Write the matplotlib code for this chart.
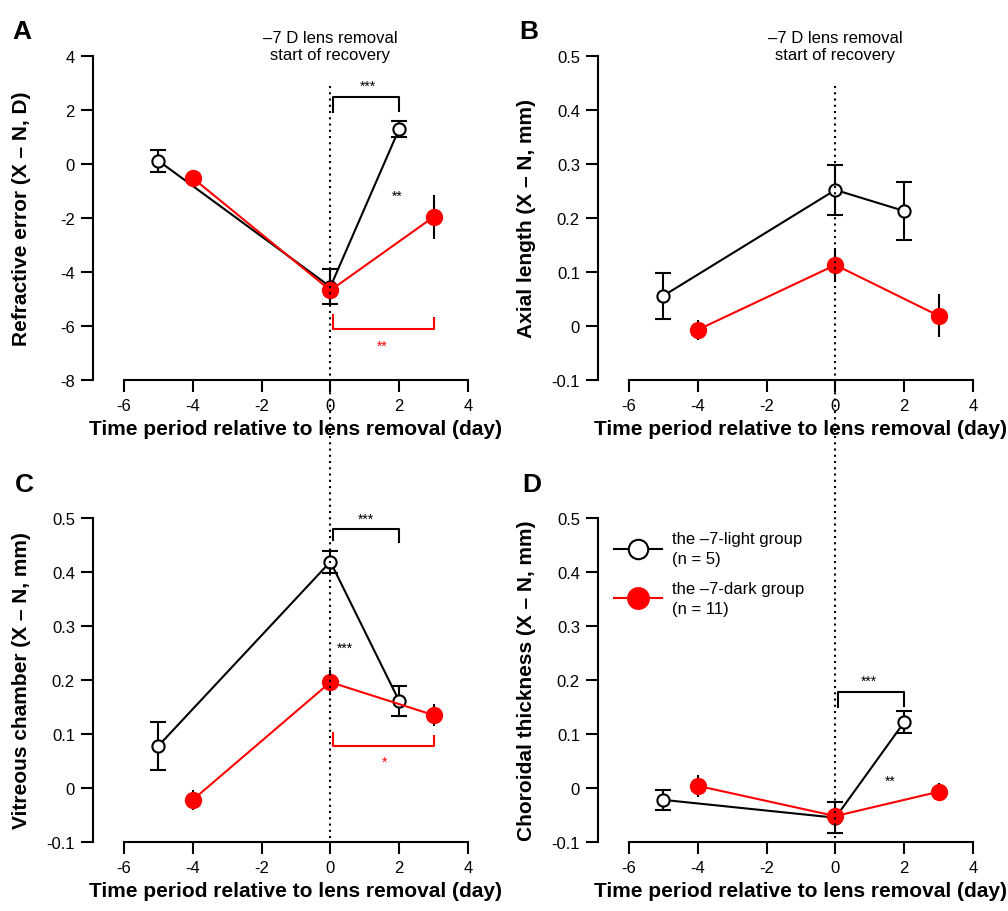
import matplotlib
matplotlib.use('Agg')
import matplotlib.pyplot as plt
from matplotlib.lines import Line2D
import matplotlib.transforms as mtransforms

plt.rcParams['font.family'] = ['Liberation Sans', 'DejaVu Sans']
plt.rcParams['axes.unicode_minus'] = False

# ---------------- data ----------------
days_light = [-5, 0, 2]
days_dark = [-4, 0, 3]

refr_light = [0.12, -4.55, 1.30]
refr_light_err = [0.40, 0.65, 0.31]
refr_dark = [-0.52, -4.68, -1.96]
refr_dark_err = [0.30, 0.50, 0.83]

axial_light = [0.056, 0.252, 0.213]
axial_light_err = [0.043, 0.046, 0.053]
axial_dark = [-0.007, 0.113, 0.019]
axial_dark_err = [0.0185, 0.031, 0.040]

vitr_light = [0.078, 0.419, 0.161]
vitr_light_err = [0.044, 0.020, 0.028]
vitr_dark = [-0.022, 0.196, 0.135]
vitr_dark_err = [0.0185, 0.023, 0.021]

chor_light = [-0.022, -0.055, 0.122]
chor_light_err = [0.0185, 0.029, 0.020]
chor_dark = [0.004, -0.052, -0.007]
chor_dark_err = [0.020, 0.019, 0.016]

xticks = [-6, -4, -2, 0, 2, 4]
xticklabels = ['-6', '-4', '-2', '0', '2', '4']
refr_yticks = [-8, -6, -4, -2, 0, 2, 4]
refr_yticklabels = ['-8', '-6', '-4', '-2', '0', '2', '4']
mm_yticks = [-0.1, 0.0, 0.1, 0.2, 0.3, 0.4, 0.5]
mm_yticklabels = ['-0.1', '0', '0.1', '0.2', '0.3', '0.4', '0.5']

ylabels = ['Refractive error (X \u2013 N, D)', 'Axial length (X \u2013 N, mm)',
           'Vitreous chamber (X \u2013 N, mm)', 'Choroidal thickness (X \u2013 N, mm)']
xlabel = 'Time period relative to lens removal (day)'
panel_letters = ['A', 'B', 'C', 'D']
event_text = '\u20137 D lens removal\nstart of recovery'
legend_labels = ['the \u20137-light group\n(n = 5)', 'the \u20137-dark group\n(n = 11)']

# significance brackets: (x list, y list, colour)
brackets = {
    0: [([0.08, 0.08, 2.0, 2.0], [1.93, 2.48, 2.48, 1.96], 'black'),
        ([0.08, 0.08, 3.0, 3.0], [-5.59, -6.11, -6.11, -5.70], 'red')],
    1: [],
    2: [([0.08, 0.08, 2.0, 2.0], [0.459, 0.480, 0.480, 0.456], 'black'),
        ([0.08, 0.08, 3.0, 3.0], [0.102, 0.078, 0.078, 0.096], 'red')],
    3: [([0.09, 0.09, 2.0, 2.0], [0.150, 0.178, 0.178, 0.152], 'black')],
}
# significance stars: (x, y glyph centre, text, colour)
stars = {
    0: [(1.09, 3.04, '***', 'black'), (1.94, -1.04, '**', 'black'), (1.50, -6.56, '**', 'red')],
    1: [],
    2: [(1.03, 0.507, '***', 'black'), (0.42, 0.267, '***', 'black'), (1.56, 0.057, '*', 'red')],
    3: [(0.97, 0.206, '***', 'black'), (1.60, 0.022, '**', 'black')],
}

series = [
    (refr_light, refr_light_err, refr_dark, refr_dark_err),
    (axial_light, axial_light_err, axial_dark, axial_dark_err),
    (vitr_light, vitr_light_err, vitr_dark, vitr_dark_err),
    (chor_light, chor_light_err, chor_dark, chor_dark_err),
]

# ---------------- figure ----------------
fig = plt.figure(figsize=(10.08, 9.12), dpi=100)
W, H = 1008, 912
positions = [
    (93 / W, 1 - 381 / H, 375 / W, 324 / H),
    (598 / W, 1 - 381 / H, 375 / W, 324 / H),
    (93 / W, 1 - 843 / H, 375 / W, 324 / H),
    (598 / W, 1 - 843 / H, 375 / W, 324 / H),
]
letter_pos = [(12 / W, 1 - 39 / H), (519 / W, 1 - 39 / H),
              (15 / W, 1 - 492 / H), (522 / W, 1 - 492 / H)]

axes = []
for i, pos in enumerate(positions):
    ax = fig.add_axes(pos)
    axes.append(ax)
    lt, lte, dk, dke = series[i]

    ax.errorbar(days_light, lt, yerr=lte, color='black', lw=1.5, ecolor='black',
                elinewidth=1.5, capsize=6, capthick=1.5, marker='o', ms=8.8,
                mfc='white', mec='black', mew=1.5, zorder=3, clip_on=False)
    ax.errorbar(days_dark, dk, yerr=dke, color='red', lw=1.5, ecolor='black',
                elinewidth=1.5, capsize=6, capthick=1.5, marker='o', ms=12.5,
                mfc='red', mec='red', mew=0, zorder=4, clip_on=False)

    ax.set_xlim(-6.9, 4.0)
    if i == 0:
        ax.set_ylim(-8, 4)
        ax.set_yticks(refr_yticks)
        ax.set_yticklabels(refr_yticklabels)
    else:
        ax.set_ylim(-0.1, 0.5)
        ax.set_yticks(mm_yticks)
        ax.set_yticklabels(mm_yticklabels)
    ax.set_xticks(xticks)
    ax.set_xticklabels(xticklabels)

    for s in ['top', 'right']:
        ax.spines[s].set_visible(False)
    ax.spines['left'].set_linewidth(1.5)
    ax.spines['bottom'].set_linewidth(1.5)
    ax.spines['bottom'].set_bounds(xticks[0], xticks[-1])
    ax.tick_params(direction='out', length=8.5, width=1.5, labelsize=12, pad=4.5)

    ax.set_ylabel(ylabels[i], fontsize=15, fontweight='bold')
    ax.yaxis.set_label_coords(-0.165, 0.5)
    ax.set_xlabel(xlabel, fontsize=15, fontweight='bold')
    xl0, xl1 = ax.get_xlim()
    ax.xaxis.set_label_coords(((xticks[0] + xticks[-1]) / 2 - xl0) / (xl1 - xl0), -0.12)

    for bx, by, c in brackets[i]:
        ax.plot(bx, by, color=c, lw=1.5, zorder=2, clip_on=False)
    for sx, sy, st, c in stars[i]:
        ax.annotate(st, xy=(sx, sy), xytext=(0, -0.59 * 10), textcoords='offset points',
                    ha='center', va='baseline', fontsize=10, color=c,
                    annotation_clip=False)

    fig.text(letter_pos[i][0], letter_pos[i][1], panel_letters[i], fontsize=19,
             fontweight='bold', ha='left', va='baseline')

    if i < 2:
        tr = mtransforms.blended_transform_factory(ax.transData, ax.transAxes)
        ax.text(0, 0.98, event_text, transform=tr, ha='center', va='bottom', fontsize=12)

# dotted line at lens removal (day 0), spanning both rows
for top_ax, bot_ax in [(axes[0], axes[2]), (axes[1], axes[3])]:
    tr = mtransforms.blended_transform_factory(bot_ax.transData, fig.transFigure)
    y_bot = bot_ax.get_position().y0
    fig.add_artist(Line2D([0, 0], [1 - 87 / H, y_bot], transform=tr, color='black',
                          lw=1.5, linestyle=(0, (1, 2)), zorder=10))

# legend in panel D
handles = [
    Line2D([], [], color='black', lw=1.5, marker='o', ms=14, mfc='white', mec='black', mew=1.5),
    Line2D([], [], color='red', lw=1.5, marker='o', ms=16.5, mfc='red', mec='red', mew=0),
]
leg = axes[3].legend(handles, legend_labels, loc='upper left', bbox_to_anchor=(0.042, 0.96),
                     frameon=False, fontsize=12, handlelength=2.9, handletextpad=0.6,
                     labelspacing=0.85, borderpad=0, borderaxespad=0)
for t in leg.get_texts():
    t.set_linespacing(1.45)

fig.savefig('out.png', dpi=100)
